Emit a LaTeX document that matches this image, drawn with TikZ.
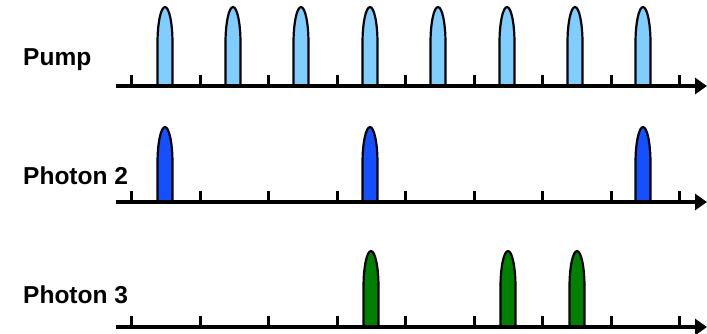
\documentclass[tikz,border=0pt]{standalone}
\usepackage{fontspec}
\setmainfont{Liberation Sans}
\usetikzlibrary{arrows.meta}

\definecolor{pumpblue}{RGB}{128,206,255}
\definecolor{photonblue}{RGB}{20,80,255}
\definecolor{photongreen}{RGB}{0,128,0}

% one pulse: centre x, top y, axis y, fill colour
\newcommand\pulseat[4]{%
  \filldraw[pulseedge, fill=#4]
    ({#1-7.5},#3) -- ({#1-7.5},{#2+36})
    .. controls ({#1-7.5},{#2+16}) and ({#1-4.1},#2) .. (#1,#2)
    .. controls ({#1+4.1},#2) and ({#1+7.5},{#2+16}) .. ({#1+7.5},{#2+36})
    -- ({#1+7.5},#3) -- cycle;}

\tikzset{
  pulseedge/.style={draw=black, line width=2.2pt, line join=round},
  timeaxis/.style={line width=4.5pt, -{Triangle[length=12pt,width=16pt]}},
  tickmark/.style={line width=3pt},
  rowlabel/.style={font=\bfseries\fontsize{24.5}{29}\selectfont, inner sep=0pt, anchor=base west},
}

\begin{document}
\begin{tikzpicture}[x=1pt,y=-1pt]
  \useasboundingbox (0,0) rectangle (707,333);

  % row labels
  \node[rowlabel] (pumplabel) at (23,65) {Pump};
  \node[rowlabel] (ptwolabel) at (23,184) {Photon 2};
  \node[rowlabel] (pthreelabel) at (23,303) {Photon 3};

  % pulses
  \foreach \x in {165,233,301,370,438,507,575,643}
    {\pulseat{\x}{7}{86}{pumpblue}}
  \foreach \x in {165,370,643}
    {\pulseat{\x}{127}{202}{photonblue}}
  \foreach \x in {371,508,577}
    {\pulseat{\x}{251}{327}{photongreen}}

  % time axes
  \coordinate (pumpstart) at (116,86);
  \coordinate (pumpend) at (707,86);
  \coordinate (ptwostart) at (116,202);
  \coordinate (ptwoend) at (707,202);
  \coordinate (pthreestart) at (116,327);
  \coordinate (pthreeend) at (707,327);
  \draw[timeaxis] (pumpstart) -- (pumpend);
  \draw[timeaxis] (ptwostart) -- (ptwoend);
  \draw[timeaxis] (pthreestart) -- (pthreeend);

  % tick marks
  \foreach \y in {86,202,327}
    \foreach \x in {131,200,268,337,405,474,542,611,679}
      {\draw[tickmark] (\x,\y) -- (\x,{\y-11});}
\end{tikzpicture}
\end{document}
